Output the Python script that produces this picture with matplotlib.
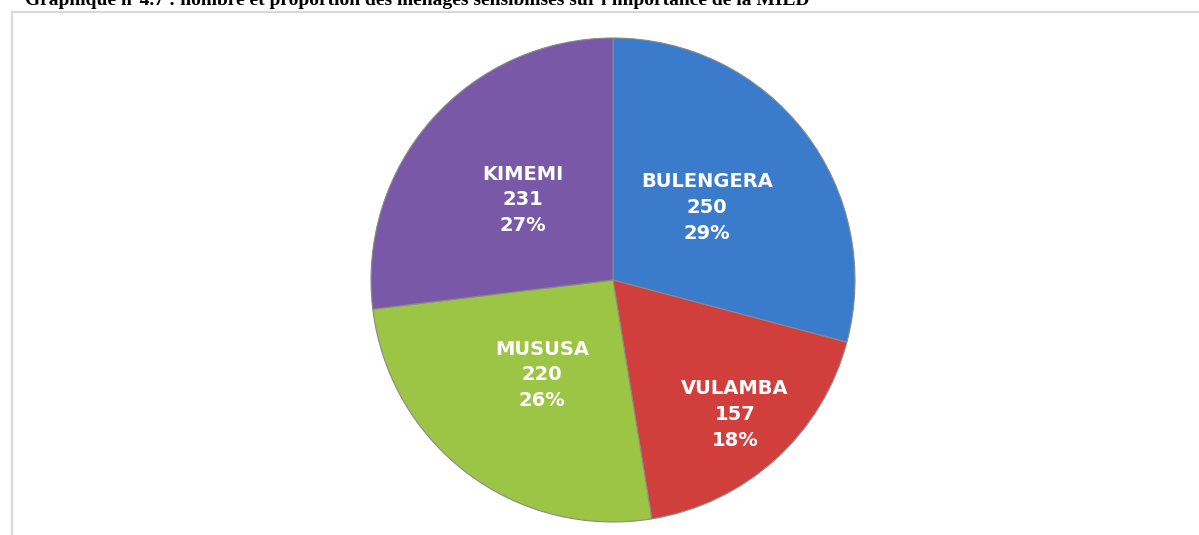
import numpy as np
import matplotlib
matplotlib.use("Agg")
import matplotlib.pyplot as plt
from matplotlib.lines import Line2D

title = "Graphique n°4.7 : nombre et proportion des ménages sensibilisés sur l'importance de la MILD"
categories = ["BULENGERA", "VULAMBA", "MUSUSA", "KIMEMI"]
values = [250, 157, 220, 231]
percents = ["29%", "18%", "26%", "27%"]
colors = ["#3b7bcc", "#d13f3c", "#9cc445", "#7a58a8"]
label_radius = [0.49, 0.75, 0.49, 0.50]

W, H = 1199, 535
fig = plt.figure(figsize=(W / 100, H / 100), dpi=100)

# frame lines (light gray border)
fig.add_artist(Line2D([12 / W, 1.0], [1 - 12 / H, 1 - 12 / H], transform=fig.transFigure,
                      color="#d9d9d9", lw=1.6))
fig.add_artist(Line2D([12 / W, 12 / W], [0.0, 1 - 12 / H], transform=fig.transFigure,
                      color="#d9d9d9", lw=1.6))

# title (cut off at the top, as in the reference)
fig.text(25 / W, 1 - 5 / H, title, fontsize=14, fontweight="bold",
         family="Liberation Serif", ha="left", va="baseline", color="black")

cx, cy, R = 613, 280, 242
ax = fig.add_axes([(cx - R) / W, (H - cy - R) / H, 2 * R / W, 2 * R / H])
wedges, _ = ax.pie(values, colors=colors, startangle=90, counterclock=False, radius=1.0,
                   wedgeprops=dict(edgecolor="#8a8a8a", linewidth=0.8))
ax.set_xlim(-1, 1)
ax.set_ylim(-1, 1)
ax.set_aspect("equal")
ax.axis("off")

for w, cat, v, p, rf in zip(wedges, categories, values, percents, label_radius):
    ang = np.deg2rad((w.theta1 + w.theta2) / 2)
    x, y = rf * np.cos(ang), rf * np.sin(ang)
    ax.text(x, y, f"{cat}\n{v}\n{p}", ha="center", va="center", color="white",
            fontsize=14, fontweight="bold", family="DejaVu Sans", linespacing=1.45)

fig.savefig("out.png", dpi=100)
